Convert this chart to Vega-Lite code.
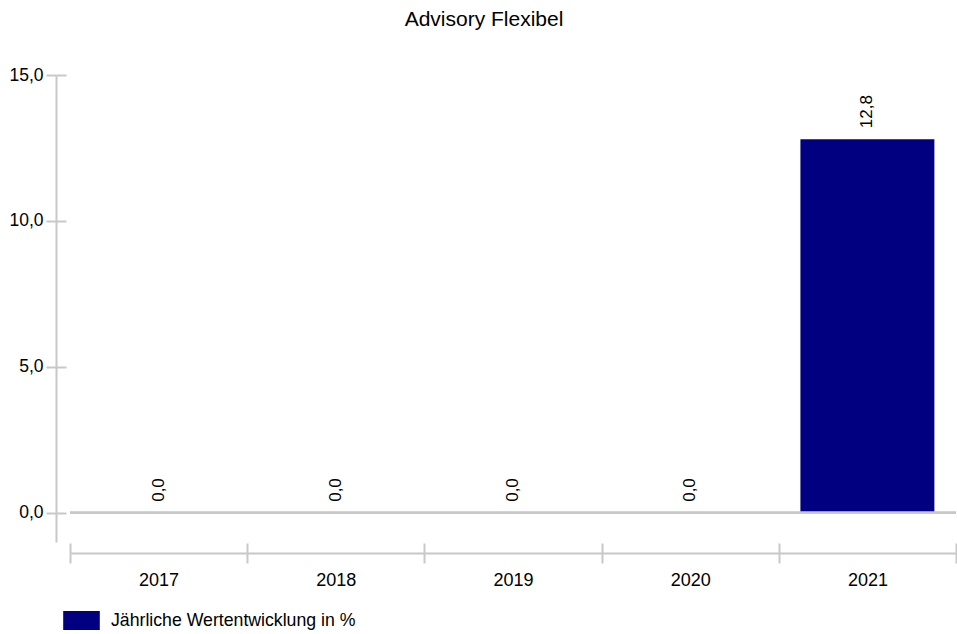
{
  "$schema": "https://vega.github.io/schema/vega-lite/v6.json",
  "width": 886,
  "height": 467,
  "autosize": {"type": "none"},
  "padding": {"left": 70, "top": 75, "right": 1, "bottom": 92},
  "background": "white",
  "title": {
    "text": "Advisory Flexibel",
    "font": "Liberation Sans",
    "fontSize": 21,
    "fontWeight": "normal",
    "color": "black",
    "anchor": "middle",
    "frame": "group",
    "offset": 36,
    "dx": -29
  },
  "data": {
    "values": [
      {"year": "2017", "value": 0.0, "series": "Jährliche Wertentwicklung in %"},
      {"year": "2018", "value": 0.0, "series": "Jährliche Wertentwicklung in %"},
      {"year": "2019", "value": 0.0, "series": "Jährliche Wertentwicklung in %"},
      {"year": "2020", "value": 0.0, "series": "Jährliche Wertentwicklung in %"},
      {"year": "2021", "value": 12.8, "series": "Jährliche Wertentwicklung in %"}
    ]
  },
  "layer": [
    {
      "mark": {"type": "bar", "width": {"band": 0.756}},
      "encoding": {
        "x": {
          "field": "year",
          "type": "nominal",
          "sort": null,
          "scale": {"paddingInner": 0, "paddingOuter": 0},
          "axis": {
            "orient": "bottom",
            "offset": 11,
            "tickBand": "extent",
            "tickSize": 10,
            "tickWidth": 2,
            "tickColor": "#c8c8c8",
            "domainColor": "#c8c8c8",
            "domainWidth": 2,
            "labelAngle": 0,
            "labelPadding": 8,
            "labelFont": "Liberation Sans",
            "labelFontSize": 18,
            "labelColor": "black",
            "title": null,
            "grid": false
          }
        },
        "y": {
          "field": "value",
          "type": "quantitative",
          "scale": {"domain": [-1, 15], "nice": false, "zero": false},
          "axis": {
            "orient": "left",
            "offset": 14,
            "values": [0, 5, 10, 15],
            "tickSize": 10,
            "tickWidth": 2,
            "tickColor": "#c8c8c8",
            "domainColor": "#c8c8c8",
            "domainWidth": 2,
            "labelPadding": 3,
            "labelFont": "Liberation Sans",
            "labelFontSize": 17.5,
            "labelColor": "black",
            "labelExpr": "replace(format(datum.value, '.1f'), '.', ',')",
            "title": null,
            "grid": false
          }
        },
        "color": {
          "field": "series",
          "type": "nominal",
          "scale": {"range": ["#000080"]},
          "legend": {
            "orient": "none",
            "legendX": -7,
            "legendY": 527,
            "title": null,
            "padding": 0,
            "symbolType": "M-1,-0.52L1,-0.52L1,0.52L-1,0.52Z",
            "symbolSize": 1340,
            "symbolStrokeWidth": 0,
            "labelFont": "Liberation Sans",
            "labelFontSize": 17.7,
            "labelColor": "black",
            "labelOffset": 11,
            "labelLimit": 0
          }
        }
      }
    },
    {
      "mark": {"type": "rule", "color": "#c8c8c8", "strokeWidth": 2},
      "encoding": {
        "y": {"datum": 0, "type": "quantitative", "axis": null}
      }
    },
    {
      "mark": {
        "type": "text",
        "angle": 270,
        "align": "left",
        "baseline": "middle",
        "dx": 11,
        "font": "Liberation Sans",
        "fontSize": 17,
        "color": "black"
      },
      "encoding": {
        "x": {
          "field": "year",
          "type": "nominal",
          "sort": null,
          "axis": {
            "orient": "bottom",
            "offset": 11,
            "tickBand": "extent",
            "tickSize": -10,
            "tickWidth": 2,
            "tickColor": "#c8c8c8",
            "domain": false,
            "labels": false,
            "title": null,
            "grid": false
          }
        },
        "y": {
          "field": "value",
          "type": "quantitative",
          "axis": {
            "orient": "left",
            "offset": 14,
            "values": [0, 5, 10, 15],
            "tickSize": -10,
            "tickWidth": 2,
            "tickColor": "#c8c8c8",
            "domain": false,
            "labels": false,
            "title": null,
            "grid": false
          }
        },
        "text": {"field": "value", "type": "quantitative", "format": ".1f"}
      }
    }
  ],
  "resolve": {"axis": {"x": "independent", "y": "independent"}},
  "config": {
    "view": {"stroke": null},
    "locale": {
      "number": {"decimal": ",", "thousands": ".", "grouping": [3], "currency": ["", " €"]}
    }
  }
}
